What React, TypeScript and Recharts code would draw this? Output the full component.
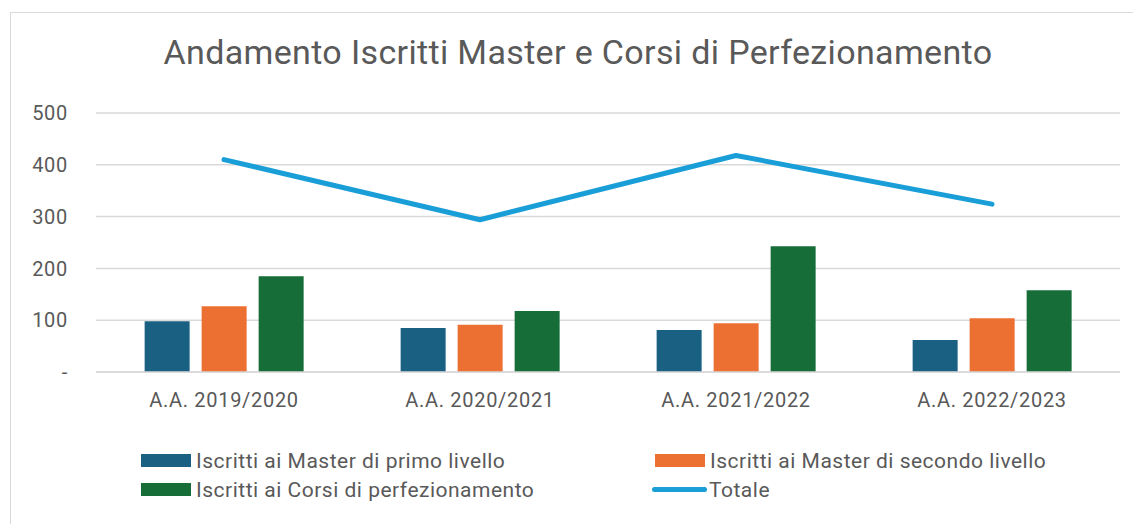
import { ComposedChart, Bar, Line, XAxis, YAxis, CartesianGrid } from 'recharts';

const categories = ['A.A. 2019/2020', 'A.A. 2020/2021', 'A.A. 2021/2022', 'A.A. 2022/2023'];
const primoLivello = [98, 85, 81, 62];
const secondoLivello = [127, 91, 94, 104];
const perfezionamento = [185, 118, 243, 158];
const totale = [410, 294, 418, 324];
const yTicks = [0, 100, 200, 300, 400, 500];

const data = categories.map((name, i) => ({
	name,
	primo: primoLivello[i],
	secondo: secondoLivello[i],
	corsi: perfezionamento[i],
	totale: totale[i],
}));

const textColor = '#595959';
const font = 'Roboto, sans-serif';

const legendItems = [
	{ label: 'Iscritti ai Master di primo livello', color: '#1a6082', type: 'bar', left: 141, top: 454 },
	{ label: 'Iscritti ai Master di secondo livello', color: '#ec7031', type: 'bar', left: 655, top: 454 },
	{ label: 'Iscritti ai Corsi di perfezionamento', color: '#176d38', type: 'bar', left: 141, top: 483 },
	{ label: 'Totale', color: '#199ed8', type: 'line', left: 652, top: 483 },
];

const App = () => {
	return (
		<div
			style={{
				position: 'absolute',
				left: 0,
				top: 0,
				width: 1133,
				height: 524,
				background: '#fff',
				fontFamily: font,
				overflow: 'hidden',
			}}>
			<div
				style={{
					position: 'absolute',
					left: 10,
					top: 12,
					width: 1140,
					height: 540,
					border: '1.5px solid #d9d9d9',
					boxSizing: 'border-box',
				}}
			/>
			<div
				style={{
					position: 'absolute',
					left: 0,
					top: 30,
					width: 1156,
					textAlign: 'center',
					fontSize: 34,
					letterSpacing: 0.35,
					color: textColor,
					lineHeight: '44px',
				}}>
				Andamento Iscritti Master e Corsi di Perfezionamento
			</div>
			<div style={{ position: 'absolute', left: 0, top: 0 }}>
				<ComposedChart
					width={1133}
					height={524}
					data={data}
					barGap={12}
					barCategoryGap='19%'
					margin={{ top: 113, right: 13, left: 0, bottom: 112 }}>
					<CartesianGrid vertical={false} stroke='#d9d9d9' strokeWidth={1.5} />
					<XAxis
						dataKey='name'
						height={40}
						axisLine={{ stroke: '#d9d9d9', strokeWidth: 1.5 }}
						tickLine={false}
						tickMargin={15}
						tick={{ fill: textColor, fontSize: 20, fontFamily: font, letterSpacing: 0.7 }}
					/>
					<YAxis
						width={96}
						domain={[0, 500]}
						ticks={yTicks}
						axisLine={false}
						tickLine={false}
						tickMargin={22}
						tickFormatter={(v: number) => (v === 0 ? '-' : String(v))}
						tick={{ fill: textColor, fontSize: 20, fontFamily: font, letterSpacing: 0.7 }}
					/>
					<Bar dataKey='primo' fill='#1a6082' isAnimationActive={false} />
					<Bar dataKey='secondo' fill='#ec7031' isAnimationActive={false} />
					<Bar dataKey='corsi' fill='#176d38' isAnimationActive={false} />
					<Line
						dataKey='totale'
						stroke='#199ed8'
						strokeWidth={5}
						strokeLinecap='round'
						strokeLinejoin='round'
						dot={false}
						activeDot={false}
						isAnimationActive={false}
					/>
				</ComposedChart>
			</div>
			{legendItems.map((item) => (
				<div
					key={item.label}
					style={{
						position: 'absolute',
						left: item.left,
						top: item.top,
						display: 'flex',
						alignItems: 'center',
						height: 13,
						fontSize: 21,
						letterSpacing: 0.5,
						color: textColor,
						whiteSpace: 'nowrap',
					}}>
					{item.type === 'bar' ? (
						<span style={{ display: 'inline-block', width: 50, height: 13, background: item.color }} />
					) : (
						<span
							style={{
								display: 'inline-block',
								width: 55,
								height: 5,
								borderRadius: 3,
								background: item.color,
							}}
						/>
					)}
					<span style={{ marginLeft: item.type === 'bar' ? 5 : 2 }}>{item.label}</span>
				</div>
			))}
		</div>
	);
};

export default App;
